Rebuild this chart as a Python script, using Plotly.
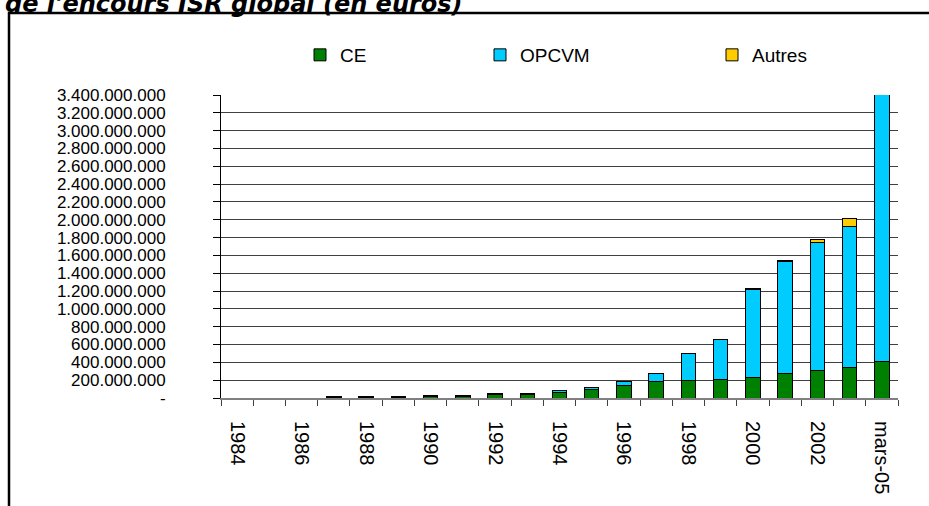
import plotly.graph_objects as go

categories = ["1984", "1985", "1986", "1987", "1988", "1989", "1990", "1991", "1992", "1993",
              "1994", "1995", "1996", "1997", "1998", "1999", "2000", "2001", "2002", "2003", "mars-05"]
tick_labels = ["1984", "", "1986", "", "1988", "", "1990", "", "1992", "", "1994", "", "1996", "",
               "1998", "", "2000", "", "2002", "", "mars-05"]
ce = [0, 0, 0, 8e6, 8e6, 8e6, 22e6, 22e6, 38e6, 38e6, 58e6, 98e6, 140e6, 180e6, 195e6, 210e6,
      232e6, 270e6, 305e6, 338e6, 410e6]
opcvm = [0, 0, 0, 5e6, 5e6, 5e6, 8e6, 8e6, 12e6, 12e6, 22e6, 25e6, 50e6, 95e6, 305e6, 445e6,
         985e6, 1265e6, 1440e6, 1585e6, 3100e6]
autres = [0, 0, 0, 0, 0, 0, 0, 0, 0, 0, 0, 0, 0, 5e6, 5e6, 0, 10e6, 12e6, 30e6, 88e6, 0]
y_tickvals = [i * 200_000_000 for i in range(18)]
y_ticktext = ["-"] + [f"{v:,}".replace(",", ".") for v in y_tickvals[1:]]

FONT = "Liberation Sans, Arial, sans-serif"
W, H = 929, 506
ML, MR, MT, MB = 221, 31, 95, 108
PW, PH = W - ML - MR, H - MT - MB


def px_x(px):
    return (px - ML) / PW


def px_y(py):
    return 1 - (py - MT) / PH


fig = go.Figure()
series = [("CE", ce, "#008000", "legend"), ("OPCVM", opcvm, "#00CCFF", "legend2"),
          ("Autres", autres, "#FFCC00", "legend3")]
for name, vals, col, leg in series:
    fig.add_trace(go.Bar(x=categories, y=vals, name=name, legend=leg, showlegend=True,
                         marker=dict(color=col, line=dict(color="black", width=1))))

leg_common = dict(orientation="h", xanchor="left", yanchor="middle", y=px_y(55),
                  font=dict(family=FONT, size=19, color="black"), bgcolor="rgba(0,0,0,0)")

fig.update_layout(
    width=W, height=H,
    showlegend=True,
    margin=dict(l=ML, r=MR, t=MT, b=MB, autoexpand=False),
    paper_bgcolor="white", plot_bgcolor="white",
    barmode="stack", bargap=0.55,
    font=dict(family=FONT, size=19, color="black"),
    legend=dict(x=px_x(300), **leg_common),
    legend2=dict(x=px_x(480), **leg_common),
    legend3=dict(x=px_x(712), **leg_common),
    xaxis=dict(type="category", tickmode="array", tickvals=categories, ticktext=tick_labels,
               tickangle=90, tickson="boundaries", ticks="outside", ticklen=6,
               tickcolor="#404040", showline=True, linecolor="#808080", linewidth=2,
               showgrid=False, ticklabelstandoff=17,
               tickfont=dict(family=FONT, size=20, color="black")),
    yaxis=dict(range=[0, 3.4e9], tickmode="array", tickvals=y_tickvals, ticktext=y_ticktext,
               ticks="outside", ticklen=7, tickcolor="black", showline=True, linecolor="black",
               linewidth=1, showgrid=True, gridcolor="#404040", gridwidth=1, zeroline=False,
               ticklabelstandoff=44, tickfont=dict(family=FONT, size=17, color="black")),
    shapes=[dict(type="rect", xref="paper", yref="paper",
                 x0=px_x(9), x1=px_x(935), y0=px_y(520), y1=px_y(13),
                 line=dict(color="black", width=2.5), fillcolor="rgba(0,0,0,0)", layer="above")],
    annotations=[dict(text="<b><i>de l'encours ISR global (en euros)</i></b>",
                      xref="paper", yref="paper", x=px_x(3), y=px_y(20),
                      xanchor="left", yanchor="bottom", showarrow=False,
                      font=dict(family="DejaVu Sans", size=24, color="black"))],
)

fig.write_html("out.html", config={"displayModeBar": False},
               post_script="document.body.style.margin='0';")
